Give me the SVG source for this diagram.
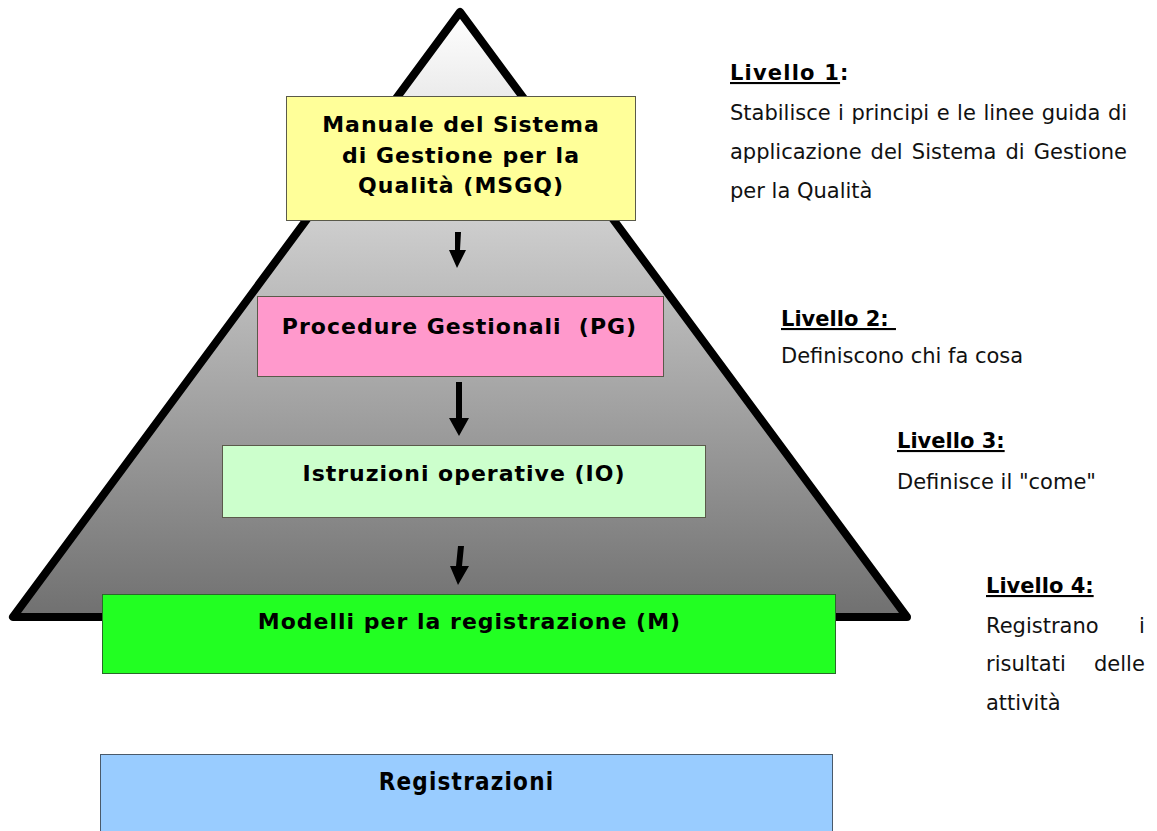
<svg xmlns="http://www.w3.org/2000/svg" width="1157" height="831" viewBox="0 0 1157 831">
<defs>
<linearGradient id="pg" x1="0" y1="0" x2="0" y2="1">
<stop offset="0" stop-color="#ffffff"/>
<stop offset="1" stop-color="#707070"/>
</linearGradient>
</defs>
<style>
.box{stroke:#5a5a4a;stroke-width:1}
.bt{font-family:"DejaVu Sans",Verdana,sans-serif;font-weight:bold;font-size:22px;letter-spacing:1px;fill:#000;text-anchor:middle}
.h{font-family:"DejaVu Sans",Verdana,sans-serif;font-weight:bold;font-size:21px;fill:#000}
.u{text-decoration:underline}
.t{font-family:"DejaVu Sans",Verdana,sans-serif;font-size:21px;fill:#111}
.arr{fill:#000}
</style>
<rect width="1157" height="831" fill="#fff"/>
<g id="pyramid">
<polygon points="460,12 13,617 907,617" fill="url(#pg)" stroke="#000" stroke-width="8" stroke-linejoin="round"/>
</g>
<g id="n1">
<rect class="box" x="286.5" y="96.5" width="349" height="124" fill="#ffff99"/>
<text class="bt" x="461" y="132">Manuale del Sistema</text>
<text class="bt" x="461" y="163">di Gestione per la</text>
<text class="bt" x="461" y="193">Qualità (MSGQ)</text>
</g>
<g id="n2">
<rect class="box" x="257.5" y="296.5" width="406" height="80" fill="#ff99cc"/>
<text class="bt" x="459.5" y="334" xml:space="preserve">Procedure Gestionali  (PG)</text>
</g>
<g id="n3">
<rect class="box" x="222.5" y="445.5" width="483" height="72" fill="#ccffcc"/>
<text class="bt" x="464" y="481">Istruzioni operative (IO)</text>
</g>
<g id="n4">
<rect class="box" x="102.5" y="594.5" width="733" height="79" fill="#22ff22" style="stroke:#2a6a2a"/>
<text class="bt" x="469.5" y="629">Modelli per la registrazione (M)</text>
</g>
<g id="n5">
<rect class="box" x="100.5" y="754.5" width="732" height="90" fill="#99ccff" style="stroke:#4a5a6a"/>
<text class="bt" x="466.5" y="790" style="font-family:'DejaVu Sans Condensed','DejaVu Sans',sans-serif;font-size:24px;letter-spacing:1.2px">Registrazioni</text>
</g>
<g id="connectors">
<polygon class="arr" points="455,232 461,232 460,250 466,250 457,268 449,250 455,250"/>
<polygon class="arr" points="456,382 462,382 462,418 469,418 459,436 449,418 456,418"/>
<polygon class="arr" points="458,546 464,546 462,566 469,566 458,585 450,566 456,566"/>
</g>
<g id="labels">
<text class="h" x="730" y="80" style="letter-spacing:1.2px"><tspan class="u">Livello 1</tspan>:</text>
<text class="t" y="120"><tspan x="730">Stabilisce</tspan><tspan x="838">i</tspan><tspan x="851.5">principi</tspan><tspan x="936.7">e</tspan><tspan x="957.1">le</tspan><tspan x="983.4">linee</tspan><tspan x="1041.7">guida</tspan><tspan x="1107.9">di</tspan></text>
<text class="t" y="159"><tspan x="730">applicazione</tspan><tspan x="870.6">del</tspan><tspan x="911.8">Sistema</tspan><tspan x="1005.4">di</tspan><tspan x="1033.7">Gestione</tspan></text>
<text class="t" x="730" y="198">per la Qualità</text>
<text class="h u" x="781" y="326" xml:space="preserve">Livello 2: </text>
<text class="t" x="781" y="363">Definiscono chi fa cosa</text>
<text class="h u" x="897" y="448">Livello 3:</text>
<text class="t" x="897" y="489">Definisce il "come"</text>
<text class="h u" x="986" y="593">Livello 4:</text>
<text class="t" y="633"><tspan x="986">Registrano</tspan><tspan x="1139">i</tspan></text>
<text class="t" y="671"><tspan x="986">risultati</tspan><tspan x="1094">delle</tspan></text>
<text class="t" x="986" y="710">attività</text>
</g>
</svg>
